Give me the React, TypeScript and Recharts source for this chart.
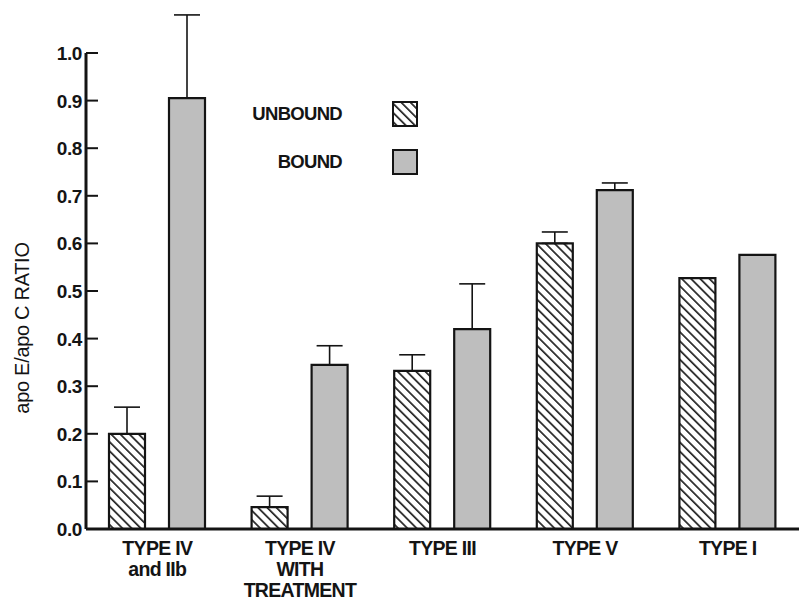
import React from 'react';
import { BarChart, Bar, XAxis, YAxis, ErrorBar, Legend } from 'recharts';

const categories = ['TYPE IV\nand IIb', 'TYPE IV\nWITH\nTREATMENT', 'TYPE III', 'TYPE V', 'TYPE I'];
const unbound = [0.2, 0.046, 0.332, 0.6, 0.527];
const unboundErr = [0.056, 0.023, 0.034, 0.024, null];
const bound = [0.905, 0.345, 0.42, 0.712, 0.576];
const boundErr = [0.175, 0.04, 0.095, 0.015, null];
const yTicks = [0, 0.1, 0.2, 0.3, 0.4, 0.5, 0.6, 0.7, 0.8, 0.9, 1.0];

const data = categories.map((name, i) => ({
  name,
  unbound: unbound[i],
  unboundErr: unboundErr[i] == null ? null : [0, unboundErr[i]],
  bound: bound[i],
  boundErr: boundErr[i] == null ? null : [0, boundErr[i]],
}));

const FONT = '"Liberation Sans", Arial, Helvetica, sans-serif';
const INK = '#141414';
const GRAY = '#bebebe';

const HatchDef = ({ id }: { id: string }) => (
  <defs>
    <pattern id={id} patternUnits="userSpaceOnUse" width={6.5} height={6.5} patternTransform="rotate(45)">
      <rect width={6.5} height={6.5} fill="#fff" />
      <line x1={0} y1={1} x2={6.5} y2={1} stroke={INK} strokeWidth={1.6} />
    </pattern>
  </defs>
);

const YTick = (props: any) => {
  const { x, y, payload } = props;
  return (
    <g>
      <line x1={x} y1={y} x2={x + 12} y2={y} stroke={INK} strokeWidth={2} />
      <text x={x - 4} y={y + 7} textAnchor="end" fontSize={19} fontWeight="bold" fill={INK} fontFamily={FONT} letterSpacing={-0.4}>
        {Number(payload.value).toFixed(1)}
      </text>
    </g>
  );
};

const XTick = (props: any) => {
  const { x, y, payload } = props;
  const lines = String(payload.value).split('\n');
  return (
    <text x={x} y={y} textAnchor="middle" fontSize={19.5} fill={INK} fontFamily={FONT} fontWeight="bold" letterSpacing={-0.7}>
      {lines.map((l, i) => (
        <tspan key={i} x={x} dy={i === 0 ? 24 : 21}>{l}</tspan>
      ))}
    </text>
  );
};

const YTitle = () => (
  <text transform="translate(29,328) rotate(-90)" textAnchor="middle" fontSize={20} fill={INK} fontFamily={FONT} letterSpacing={-0.3}>
    apo E/apo C RATIO
  </text>
);

const LegendBox = () => (
  <div style={{ fontFamily: FONT, color: INK, fontWeight: 'bold', fontSize: 18.5, letterSpacing: -0.7 }}>
    {[{ label: 'UNBOUND', fill: 'url(#hatchLegend)' }, { label: 'BOUND', fill: GRAY }].map((item, i) => (
      <div key={i} style={{ display: 'flex', alignItems: 'center', height: 24, marginBottom: 24 }}>
        <span style={{ width: 102, textAlign: 'right' }}>{item.label}</span>
        <svg width={26} height={26} style={{ marginLeft: 50 }}>
          {i === 0 && <HatchDef id="hatchLegend" />}
          <rect x={1} y={1} width={24} height={24} fill={item.fill} stroke={INK} strokeWidth={2} />
        </svg>
      </div>
    ))}
  </div>
);

export default function App() {
  return (
    <div style={{ position: 'absolute', left: 0, top: 0, width: 799, height: 602, background: '#fff' }}>
      <BarChart
        width={799}
        height={602}
        data={data}
        margin={{ top: 53, right: 0, left: 0, bottom: 0 }}
        barSize={36}
        barGap={24}
      >
        <HatchDef id="hatch" />
        <XAxis
          dataKey="name"
          height={73}
          tickLine={false}
          tickSize={0}
          axisLine={{ stroke: INK, strokeWidth: 3 }}
          tick={<XTick />}
          interval={0}
        />
        <YAxis
          width={86}
          domain={[0, 1]}
          allowDataOverflow
          ticks={yTicks}
          tickLine={false}
          tickSize={0}
          tickMargin={0}
          axisLine={{ stroke: INK, strokeWidth: 3 }}
          tick={<YTick />}
          label={<YTitle />}
        />
        <Legend
          layout="vertical"
          align="center"
          verticalAlign="middle"
          content={<LegendBox />}
          wrapperStyle={{ position: 'absolute', left: 240, top: 102, width: 200 }}
        />
        <Bar dataKey="unbound" fill="url(#hatch)" stroke={INK} strokeWidth={2.2} isAnimationActive={false}>
          <ErrorBar dataKey="unboundErr" width={13} stroke={INK} strokeWidth={1.6} direction="y" />
        </Bar>
        <Bar dataKey="bound" fill={GRAY} stroke={INK} strokeWidth={2.2} isAnimationActive={false}>
          <ErrorBar dataKey="boundErr" width={13} stroke={INK} strokeWidth={1.6} direction="y" />
        </Bar>
      </BarChart>
    </div>
  );
}
